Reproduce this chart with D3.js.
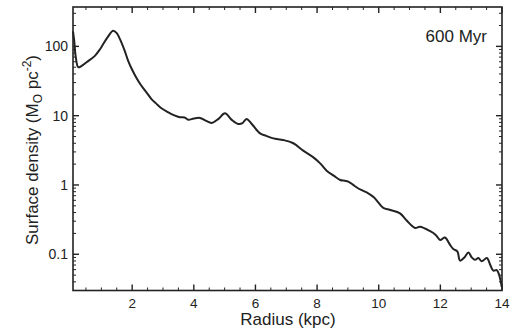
<!DOCTYPE html>
<html><head><meta charset="utf-8">
<script src="https://cdn.jsdelivr.net/npm/d3@7"></script>
<style>body{margin:0;background:#fff}svg{display:block}text{font-family:"Liberation Sans",Arial,sans-serif;fill:#222}</style>
</head><body><svg id="c" width="523" height="331"></svg>
<script>
const radius = [0.08,0.12,0.17,0.25,0.35,0.52,0.79,0.95,1.06,1.2,1.38,1.5,1.6,1.75,1.87,2.0,2.14,2.3,2.47,2.62,2.79,2.95,3.17,3.35,3.55,3.7,3.82,4.0,4.2,4.4,4.58,4.8,5.01,5.23,5.44,5.58,5.71,5.9,6.15,6.35,6.58,6.9,7.23,7.55,7.88,8.1,8.31,8.55,8.75,8.9,9.01,9.15,9.29,9.45,9.66,9.85,10.0,10.15,10.37,10.69,10.9,11.18,11.34,11.67,11.85,11.99,12.15,12.3,12.42,12.55,12.64,12.78,12.91,13.02,13.13,13.23,13.34,13.51,13.62,13.72,13.83,13.92,13.99];
const density = [165,120,70,50,52,59,73,90,108,135,168,155,128,88,62,46,35,27,21.5,17.5,14.8,12.8,11.2,10.2,9.5,9.4,8.75,9.1,9.27,8.4,7.85,9.0,10.8,8.7,7.6,7.8,8.96,7.4,5.55,5.1,4.7,4.46,4.0,3.13,2.5,2.05,1.61,1.35,1.18,1.15,1.12,1.02,0.92,0.84,0.757,0.66,0.55,0.466,0.436,0.39,0.31,0.24,0.25,0.215,0.19,0.161,0.175,0.14,0.119,0.11,0.081,0.09,0.106,0.09,0.083,0.0885,0.079,0.0885,0.07,0.058,0.059,0.048,0.034];
const xTicks = [2,4,6,8,10,12,14];
const yTicks = [0.1,1,10,100];
const yTickLabels = ["0.1","1","10","100"];
const annotation = "600 Myr";

const svg = d3.select("#c");
const L=73, R=502, T=7, B=290.5;
const x = d3.scaleLinear().domain([0.08,14]).range([L,R]);
const y = d3.scaleLog().domain([0.03,370]).range([B,T]);

const minorX = d3.range(0.5,14,0.5).filter(v=>v%2!==0);
const minorY = [];
for (let e=-2;e<=2;e++) for (let m=2;m<=9;m++){const v=m*Math.pow(10,e); if(v>=0.03&&v<=370) minorY.push(v);}

const g = svg.append("g").attr("stroke","#222");
svg.append("rect").attr("x",L).attr("y",T).attr("width",R-L).attr("height",B-T)
  .attr("fill","none").attr("stroke","#222").attr("stroke-width",1.6);
xTicks.forEach(v=>{const px=x(v);
  g.append("line").attr("x1",px).attr("x2",px).attr("y1",B).attr("y2",B-6).attr("stroke-width",1.4);
  g.append("line").attr("x1",px).attr("x2",px).attr("y1",T).attr("y2",T+6).attr("stroke-width",1.4);});
minorX.forEach(v=>{const px=x(v);
  g.append("line").attr("x1",px).attr("x2",px).attr("y1",B).attr("y2",B-3).attr("stroke-width",1);
  g.append("line").attr("x1",px).attr("x2",px).attr("y1",T).attr("y2",T+3).attr("stroke-width",1);});
yTicks.forEach(v=>{const py=y(v);
  g.append("line").attr("x1",L).attr("x2",L+6).attr("y1",py).attr("y2",py).attr("stroke-width",1.4);
  g.append("line").attr("x1",R).attr("x2",R-6).attr("y1",py).attr("y2",py).attr("stroke-width",1.4);});
minorY.forEach(v=>{const py=y(v);
  g.append("line").attr("x1",L).attr("x2",L+3).attr("y1",py).attr("y2",py).attr("stroke-width",1);
  g.append("line").attr("x1",R).attr("x2",R-3).attr("y1",py).attr("y2",py).attr("stroke-width",1);});

svg.append("g").selectAll("text").data(xTicks).join("text")
  .attr("x",d=>x(d)).attr("y",308).attr("text-anchor","middle").attr("font-size",13.5).text(d=>d);
svg.append("g").selectAll("text").data(yTicks).join("text")
  .attr("x",L-5).attr("y",d=>y(d)+5).attr("text-anchor","end").attr("font-size",14).text((d,i)=>yTickLabels[i]);

svg.append("text").attr("x",288).attr("y",325).attr("text-anchor","middle").attr("font-size",17).text("Radius (kpc)");
const yl = svg.append("text").attr("transform","translate(38,150) rotate(-90)").attr("text-anchor","middle").attr("font-size",17);
yl.append("tspan").text("Surface density (M");
yl.append("tspan").attr("font-size",12).attr("dy",4).text("O");
yl.append("tspan").attr("dy",-4).text(" pc");
yl.append("tspan").attr("font-size",12).attr("dy",-7).text("-2");
yl.append("tspan").attr("dy",7).text(")");

svg.append("text").attr("x",487).attr("y",42).attr("text-anchor","end").attr("font-size",17).text(annotation);

const pts = radius.map((r,i)=>[r,density[i]]);
svg.append("path").datum(pts).attr("fill","none").attr("stroke","#222").attr("stroke-width",2)
  .attr("stroke-linejoin","round")
  .attr("d", d3.line().x(d=>x(d[0])).y(d=>y(d[1])).curve(d3.curveCatmullRom.alpha(0.5)));
</script></body></html>
